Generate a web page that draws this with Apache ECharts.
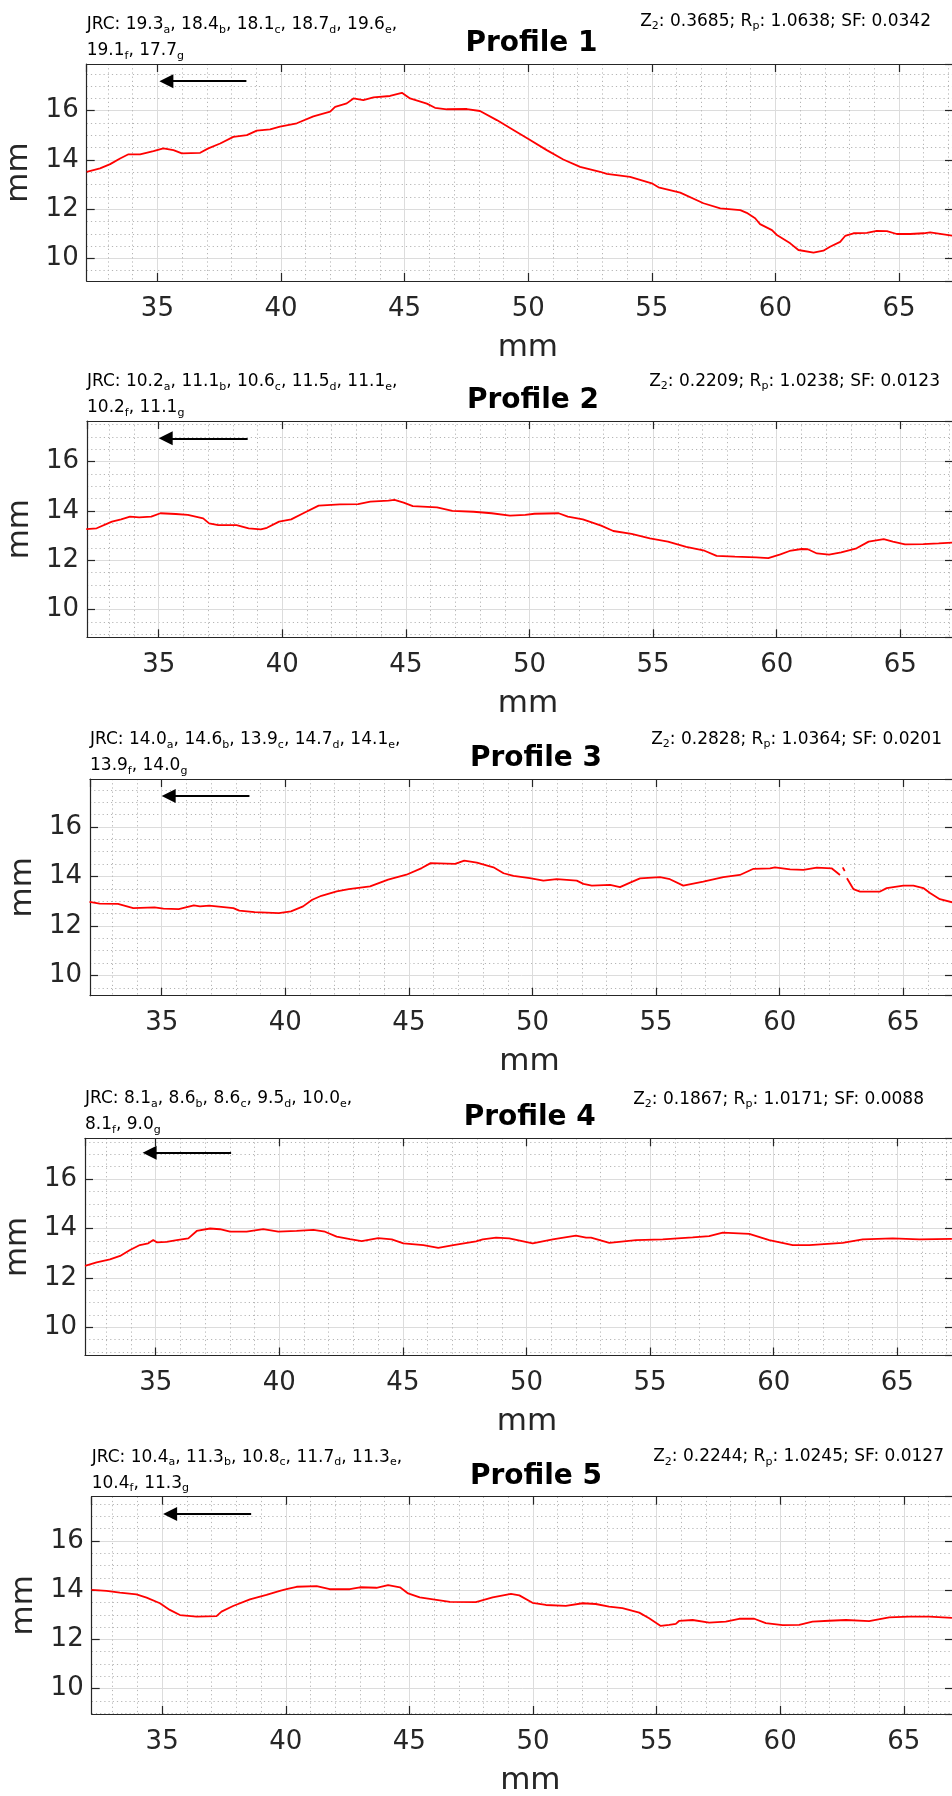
<!DOCTYPE html>
<html><head><meta charset="utf-8">
<script src="https://cdn.jsdelivr.net/npm/echarts@6/dist/echarts.min.js"></script>
<style>html,body{margin:0;padding:0;background:#fff}#c{width:952px;height:1796px}</style>
</head><body><div id="c"></div>
<script>
// ---------------- data ----------------
const p1x = [32.14,32.68,33.09,33.49,33.83,34.3,34.84,35.24,35.65,35.99,36.73,37.06,37.54,38.07,38.62,39.02,39.56,39.96,40.64,41.31,41.99,42.19,42.66,42.93,43.33,43.74,44.41,44.89,45.22,45.9,46.23,46.71,47.52,48.05,48.73,49.4,50.01,50.75,51.42,52.1,52.91,53.18,54.12,55.0,55.27,56.15,57.09,57.77,58.58,58.84,59.18,59.38,59.86,60.06,60.6,60.93,61.54,61.94,62.21,62.62,62.82,63.16,63.7,64.1,64.51,64.91,65.45,65.99,66.26,67.15];
const p1y = [13.52,13.66,13.83,14.06,14.23,14.23,14.36,14.47,14.4,14.27,14.29,14.47,14.67,14.94,15.01,15.19,15.24,15.35,15.49,15.77,15.96,16.16,16.3,16.5,16.43,16.54,16.6,16.73,16.5,16.29,16.12,16.06,16.07,15.99,15.62,15.22,14.85,14.4,14.02,13.72,13.52,13.43,13.31,13.05,12.89,12.67,12.24,12.03,11.96,11.85,11.63,11.39,11.15,10.95,10.61,10.34,10.23,10.31,10.47,10.67,10.91,11.02,11.04,11.12,11.11,10.99,10.99,11.02,11.06,10.92];

const p2x = [32.07,32.49,33.11,33.48,33.84,34.21,34.7,35.07,35.69,36.18,36.8,37.04,37.41,38.15,38.64,39.13,39.38,39.87,40.36,40.85,41.47,42.33,43.07,43.56,44.29,44.54,44.91,45.28,46.26,46.88,47.74,48.47,49.21,49.83,50.2,51.18,51.55,52.16,52.9,53.39,54.13,54.87,55.6,56.34,57.08,57.57,58.31,59.17,59.66,60.15,60.52,61.01,61.26,61.63,62.12,62.61,63.23,63.72,64.33,64.7,65.19,65.93,66.55,67.1];
const p2y = [13.27,13.3,13.57,13.66,13.77,13.74,13.77,13.91,13.88,13.84,13.7,13.5,13.43,13.43,13.3,13.26,13.32,13.57,13.66,13.91,14.22,14.27,14.28,14.38,14.42,14.45,14.34,14.2,14.15,14.01,13.97,13.91,13.81,13.84,13.89,13.91,13.77,13.66,13.41,13.19,13.07,12.89,12.76,12.55,12.39,12.18,12.15,12.12,12.09,12.24,12.38,12.46,12.45,12.28,12.23,12.32,12.49,12.76,12.86,12.76,12.65,12.66,12.69,12.72];

const p3x = [32.08,32.49,33.23,33.85,34.71,35.07,35.69,36.3,36.55,36.92,37.9,38.14,38.76,39.74,40.23,40.72,41.09,41.46,42.08,42.57,43.43,44.16,44.9,45.52,45.88,46.87,47.24,47.75,48.42,48.83,49.23,49.89,50.44,50.98,51.79,52.06,52.4,53.14,53.54,53.95,54.35,55.16,55.56,56.1,56.91,57.72,58.39,58.94,59.61,59.81,60.42,60.96,61.5,62.1,62.44,62.5,62.55,62.63,62.67,62.72,62.98,63.25,64.06,64.33,65.0,65.41,65.81,66.08,66.48,67.0];
const p3y = [12.97,12.9,12.89,12.72,12.75,12.7,12.68,12.83,12.79,12.82,12.72,12.62,12.56,12.52,12.59,12.79,13.06,13.22,13.4,13.49,13.6,13.87,14.07,14.34,14.54,14.51,14.64,14.56,14.37,14.13,14.02,13.93,13.83,13.89,13.83,13.7,13.63,13.66,13.57,13.75,13.92,13.97,13.89,13.63,13.79,13.97,14.06,14.31,14.33,14.37,14.29,14.27,14.36,14.33,14.06,null,14.37,14.22,null,13.93,13.49,13.39,13.39,13.53,13.63,13.63,13.53,13.33,13.08,12.95];

const p4x = [32.14,32.61,33.15,33.56,33.96,34.36,34.7,34.9,35.04,35.44,35.85,36.32,36.66,37.2,37.6,38.01,38.68,39.35,39.96,40.7,41.38,41.85,42.32,42.86,43.33,44.0,44.55,45.02,45.83,46.43,47.04,47.96,48.23,48.77,49.3,50.25,51.06,52.0,52.41,52.61,53.35,54.43,55.51,56.72,57.39,57.94,59.01,59.82,60.77,61.44,62.79,63.6,64.81,65.89,67.21];
const p4y = [12.49,12.63,12.75,12.89,13.13,13.33,13.4,13.53,13.44,13.46,13.53,13.6,13.9,14.0,13.97,13.87,13.87,13.97,13.87,13.9,13.94,13.87,13.67,13.57,13.49,13.61,13.56,13.4,13.33,13.22,13.33,13.48,13.56,13.63,13.6,13.4,13.56,13.71,13.63,13.63,13.42,13.53,13.56,13.64,13.69,13.83,13.78,13.53,13.33,13.33,13.42,13.56,13.6,13.56,13.58];

const p5x = [32.14,32.75,33.29,33.96,34.37,34.91,35.31,35.72,36.39,37.2,37.4,37.87,38.55,39.22,39.76,40.03,40.44,41.25,41.78,42.59,43.0,43.67,44.14,44.62,44.95,45.42,45.96,46.64,47.69,48.37,49.11,49.45,49.98,50.52,51.33,52.01,52.54,53.08,53.62,54.3,54.7,55.17,55.51,55.78,55.91,56.46,57.13,57.8,58.34,58.95,59.42,60.1,60.77,61.31,61.98,62.66,63.6,64.41,65.22,66.03,66.95];
const p5y = [14.01,13.97,13.9,13.83,13.7,13.47,13.2,12.99,12.93,12.95,13.13,13.36,13.63,13.81,13.97,14.04,14.14,14.17,14.04,14.04,14.12,14.1,14.21,14.12,13.87,13.71,13.63,13.53,13.52,13.71,13.85,13.79,13.49,13.4,13.36,13.47,13.44,13.33,13.27,13.09,12.86,12.55,12.59,12.63,12.75,12.79,12.68,12.72,12.84,12.84,12.66,12.58,12.59,12.72,12.76,12.79,12.74,12.9,12.93,12.93,12.88];

const profileTitles = ['Profile 1','Profile 2','Profile 3','Profile 4','Profile 5'];
const jrcValues = [
  [19.3,18.4,18.1,18.7,19.6,19.1,17.7],
  [10.2,11.1,10.6,11.5,11.1,10.2,11.1],
  [14.0,14.6,13.9,14.7,14.1,13.9,14.0],
  [8.1,8.6,8.6,9.5,10.0,8.1,9.0],
  [10.4,11.3,10.8,11.7,11.3,10.4,11.3]
];
const jrcSubs = ['a','b','c','d','e','f','g'];
const z2Values = [0.3685,0.2209,0.2828,0.1867,0.2244];
const rpValues = [1.0638,1.0238,1.0364,1.0171,1.0245];
const sfValues = [0.0342,0.0123,0.0201,0.0088,0.0127];
const arrowTailX = [38.6,38.6,38.55,38.05,38.6];
const arrowTipX = [35.08,35.0,35.0,34.47,35.04];
const arrowY = [17.2,16.95,17.25,17.07,17.1];
const xTickStep = 5, yTickStep = 2;

const profilesX = [p1x,p2x,p3x,p4x,p5x];
const profilesY = [p1y,p2y,p3y,p4y,p5y];

// ---------------- layout ----------------
const RIGHT_EDGE = 953, PX_PER_MM = 24.72;
const layout = [
  {left:86.7, top:64,     height:217,   xmin:32.14, ymin:9.08, ymax:17.9,  z2Right:931, z2Base:-37.5, titleX:531.5},
  {left:87,   top:421,    height:216.3, xmin:32.1,  ymin:8.88, ymax:17.65, z2Right:940, z2Base:-34.5, titleX:533},
  {left:90,   top:779,    height:216.7, xmin:32.1,  ymin:9.18, ymax:17.94, z2Right:942, z2Base:-34.5, titleX:536},
  {left:85,   top:1138.3, height:217.2, xmin:32.14, ymin:8.86, ymax:17.65, z2Right:924, z2Base:-34,   titleX:529.7},
  {left:91.7, top:1496.7, height:217.3, xmin:32.15, ymin:8.97, ymax:17.8,  z2Right:944, z2Base:-35,   titleX:536}
];

const AX = '#262626', FONT = 'DejaVu Sans';
const grids = [], xAxes = [], yAxes = [], series = [], graphics = [];
const intLabel = v => Math.abs(v - Math.round(v)) < 1e-6 ? String(Math.round(v)) : '';

layout.forEach((L, i) => {
  const width = RIGHT_EDGE - L.left;
  const xmax = L.xmin + width / PX_PER_MM;
  grids.push({left:L.left, top:L.top, width:width, height:L.height, containLabel:false, outerBoundsMode:'none'});
  const common = {type:'value', gridIndex:i, min:L.xmin, max:xmax, minInterval:xTickStep, maxInterval:xTickStep, splitNumber:7};
  xAxes.push(Object.assign({}, common, {
    position:'bottom',
    axisLine:{show:true, onZero:false, lineStyle:{color:AX, width:1.2}},
    axisTick:{show:true, inside:true, length:8, lineStyle:{color:AX, width:1.2}},
    axisLabel:{show:true, margin:15, color:AX, fontFamily:FONT, fontSize:26, showMinLabel:false, showMaxLabel:false, formatter:intLabel},
    splitLine:{show:true, lineStyle:{color:'#dcdcdc', width:1}},
    minorTick:{show:false, splitNumber:5},
    minorSplitLine:{show:true, lineStyle:{color:'#b5b5b5', width:1, type:[1.2,3]}},
    name:'mm', nameLocation:'middle', nameGap:51,
    nameTextStyle:{color:AX, fontFamily:FONT, fontSize:31, padding:[0,0,0,16]}
  }));
  xAxes.push(Object.assign({}, common, {
    position:'top',
    axisLine:{show:true, onZero:false, lineStyle:{color:AX, width:1.2}},
    axisTick:{show:true, inside:true, length:8, lineStyle:{color:AX, width:1.2}},
    axisLabel:{show:false}, splitLine:{show:false}
  }));
  const ycommon = {type:'value', gridIndex:i, min:L.ymin, max:L.ymax, minInterval:yTickStep, maxInterval:yTickStep, splitNumber:4};
  yAxes.push(Object.assign({}, ycommon, {
    position:'left',
    axisLine:{show:true, onZero:false, lineStyle:{color:AX, width:1.2}},
    axisTick:{show:true, inside:true, length:8, lineStyle:{color:AX, width:1.2}},
    axisLabel:{show:true, margin:8, color:AX, fontFamily:FONT, fontSize:26, showMinLabel:false, showMaxLabel:false, formatter:intLabel},
    splitLine:{show:true, lineStyle:{color:'#dcdcdc', width:1}},
    minorTick:{show:false, splitNumber:4},
    minorSplitLine:{show:true, lineStyle:{color:'#b5b5b5', width:1, type:[1.2,3]}},
    name:'mm', nameLocation:'middle', nameGap:49, nameRotate:90,
    nameTextStyle:{color:AX, fontFamily:FONT, fontSize:31}
  }));
  yAxes.push(Object.assign({}, ycommon, {
    position:'right',
    axisLine:{show:true, onZero:false, lineStyle:{color:AX, width:1.2}},
    axisTick:{show:true, inside:true, length:8, lineStyle:{color:AX, width:1.2}},
    axisLabel:{show:false}, splitLine:{show:false}
  }));

  const xs = profilesX[i], ys = profilesY[i];
  series.push({
    type:'line', xAxisIndex:2*i, yAxisIndex:2*i,
    data: xs.map((x, k) => [x, ys[k] === null ? '-' : ys[k]]),
    showSymbol:false, symbol:'none', connectNulls:false, clip:true,
    lineStyle:{color:'#ff0000', width:1.8}, z:5, silent:true
  });
  // arrow: the end coordinate sits at the centre of the triangular head
  const headLen = 14 / PX_PER_MM / 2;
  series.push({
    type:'lines', coordinateSystem:'cartesian2d', xAxisIndex:2*i, yAxisIndex:2*i,
    symbol:['none','triangle'], symbolSize:[11,14],
    lineStyle:{color:'#000', width:2, opacity:1, curveness:0},
    data:[{coords:[[arrowTailX[i], arrowY[i]], [arrowTipX[i] + headLen, arrowY[i]]]}],
    z:6, silent:true
  });

  // texts
  const vals = jrcValues[i];
  const part = (k) => '{n|' + (k === 0 ? 'JRC: ' : (k === 5 ? '' : ', ')) + vals[k].toFixed(1) + '}{s|' + jrcSubs[k] + '}';
  let line1 = '', line2 = '';
  for (let k = 0; k < 5; k++) line1 += part(k);
  line1 += '{n|,}';
  line2 = part(5) + '{n|, ' + vals[6].toFixed(1) + '}{s|' + jrcSubs[6] + '}';
  const rich = {
    n:{fontFamily:FONT, fontSize:17, lineHeight:26, fill:'#000'},
    s:{fontFamily:FONT, fontSize:11, lineHeight:12, padding:[10,0,0,0], fill:'#000'}
  };
  graphics.push({type:'text', x:L.left, y:L.top - 52.3, silent:true,
    style:{text: line1 + '\n' + line2, rich: rich, align:'left', verticalAlign:'top'}});
  const ztxt = '{n|Z}{s|2}{n|: ' + z2Values[i].toFixed(4) + '; R}{s|p}{n|: ' + rpValues[i].toFixed(4) + '; SF: ' + sfValues[i].toFixed(4) + '}';
  graphics.push({type:'text', x:L.z2Right, y:L.top + L.z2Base - 18, silent:true,
    style:{text: ztxt, rich: rich, align:'right', verticalAlign:'top'}});
  graphics.push({type:'text', x:L.titleX, y:L.top - 20.3, silent:true,
    style:{text: profileTitles[i], fontFamily:FONT, fontSize:28, fontWeight:'bold', fill:'#000', align:'center', verticalAlign:'middle'}});
});

const chart = echarts.init(document.getElementById('c'), null, {renderer:'canvas'});
chart.setOption({
  animation:false,
  backgroundColor:'#ffffff',
  grid:grids, xAxis:xAxes, yAxis:yAxes, series:series, graphic:graphics
});
</script>
</body></html>
